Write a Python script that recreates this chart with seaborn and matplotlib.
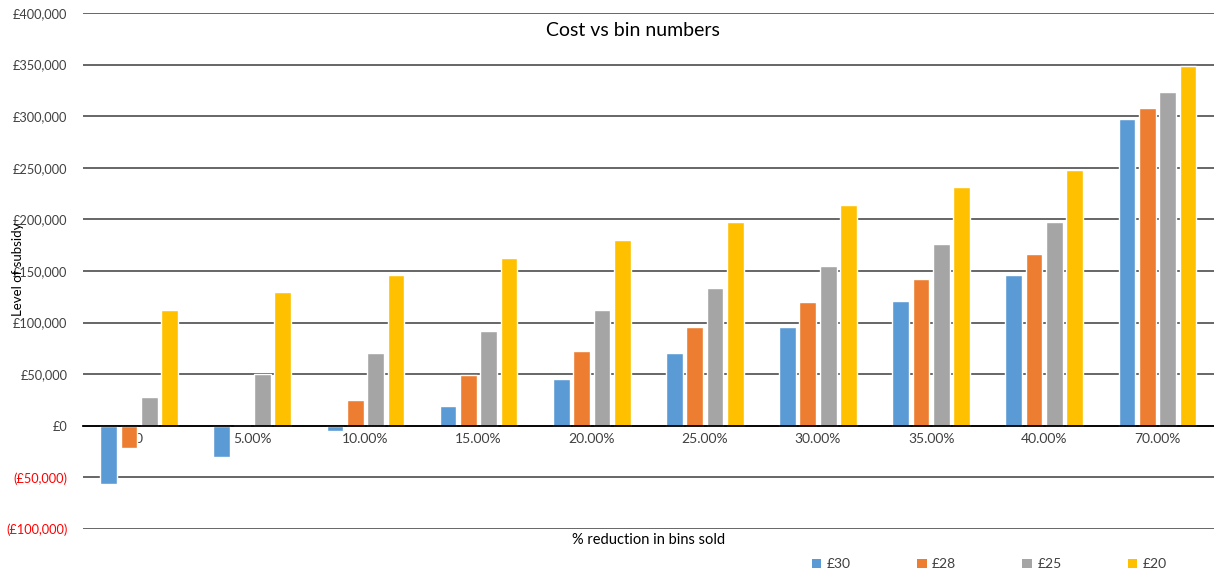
import pandas as pd
import matplotlib.pyplot as plt
import seaborn as sns
from matplotlib.patches import Patch
from matplotlib.ticker import FuncFormatter

# data
categories = ['0', '5.00%', '10.00%', '15.00%', '20.00%', '25.00%', '30.00%', '35.00%', '40.00%', '70.00%']
price_30 = [-56000, -30000, -5000, 19500, 45500, 70500, 96000, 121000, 146000, 297500]
price_28 = [-22000, 1000, 25000, 49000, 72500, 96000, 120000, 142500, 166500, 308000]
price_25 = [28000, 50500, 71000, 92000, 112500, 134000, 155000, 176000, 197500, 323500]
price_20 = [112500, 130000, 146500, 163000, 180500, 197500, 214000, 231000, 248000, 349000]
series_names = ['£30', '£28', '£25', '£20']
series_colors = ['#5B9BD5', '#ED7D31', '#A5A5A5', '#FFC000']

rows = []
for name, vals in zip(series_names, [price_30, price_28, price_25, price_20]):
    for cat, v in zip(categories, vals):
        rows.append({'reduction': cat, 'price': name, 'subsidy': v})
df = pd.DataFrame(rows)

sns.set_style('white')
plt.rcParams['font.family'] = ['Lato', 'DejaVu Sans']
text_col = '#404040'

fig = plt.figure(figsize=(12.14, 5.73), dpi=100)
ax = fig.add_axes([0.068, 0.0768, 0.932, 0.9005])

sns.barplot(data=df, x='reduction', y='subsidy', hue='price', order=categories,
            hue_order=series_names, palette=series_colors, width=0.72, gap=0.18,
            saturation=1, legend=False, ax=ax)

ax.set_ylim(-100000, 400000)
ax.set_xlim(-0.5, len(categories) - 0.5)
ax.set_yticks(range(-100000, 400001, 50000))
ax.set_axisbelow(True)
ax.yaxis.grid(True, color='#5a5a5a', linewidth=1.3)
ax.xaxis.grid(False)

def money(v, pos):
    v = int(round(v))
    if v < 0:
        return f'(£{abs(v):,})'
    return f'£{v:,}'

ax.yaxis.set_major_formatter(FuncFormatter(money))
ax.tick_params(axis='y', length=0, pad=11, labelsize=9.2, labelcolor=text_col)
for lab, t in zip(ax.get_yticklabels(), ax.get_yticks()):
    if t < 0:
        lab.set_color('red')

# category axis sits on zero, like Excel
for s in ['top', 'right', 'left']:
    ax.spines[s].set_visible(False)
ax.spines['bottom'].set_position(('data', 0))
ax.spines['bottom'].set_color('black')
ax.spines['bottom'].set_linewidth(1.3)
ax.tick_params(axis='x', length=0, pad=5, labelsize=10, labelcolor=text_col)
ax.set_xlabel('')
ax.set_ylabel('')

fig.text(0.521, 0.947, 'Cost vs bin numbers', ha='center', va='center', fontsize=14, color='black')
fig.text(0.534, 0.057, '% reduction in bins sold', ha='center', va='center', fontsize=10.5, color='black')
fig.text(0.015, 0.53, 'Level of subsidy', rotation=90, ha='center', va='center', fontsize=9.5, color='black')

handles = [Patch(facecolor=c, edgecolor='none') for c in series_colors]
fig.legend(handles, series_names, ncol=4, loc='center', bbox_to_anchor=(0.815, 0.015),
           frameon=False, fontsize=10, handlelength=0.7, handleheight=0.7,
           handletextpad=0.4, columnspacing=4.75, labelcolor=text_col)

fig.savefig('out.png', dpi=100)
